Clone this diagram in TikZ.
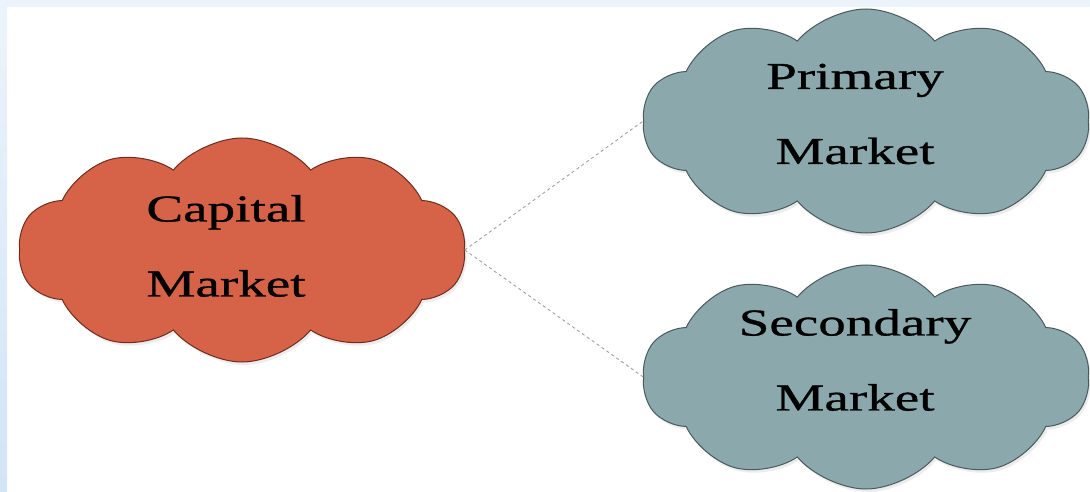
\documentclass[tikz,border=0pt]{standalone}
\usepackage{fontspec}
\setmainfont{Liberation Serif}[FakeStretch=1.45,FakeBold=0.8]
\usetikzlibrary{shapes.symbols,shadows}
\definecolor{capfill}{RGB}{214,99,72}
\definecolor{capline}{RGB}{110,45,30}
\definecolor{mktfill}{RGB}{139,168,172}
\definecolor{mktline}{RGB}{75,90,92}
\definecolor{framebg}{RGB}{236,243,251}
\definecolor{framebg2}{RGB}{210,228,247}
\begin{document}
\begin{tikzpicture}[x=1pt,y=-1pt,
  cloudbox/.style={cloud, cloud puffs=10, cloud puff arc=100, aspect=2, inner sep=0pt,
    minimum width=447pt, minimum height=224pt, line width=1pt,
    drop shadow={opacity=0.15, shadow xshift=2pt, shadow yshift=-3pt}},
  capcloud/.style={cloudbox, fill=capfill, draw=capline},
  mktcloud/.style={cloudbox, fill=mktfill, draw=mktline},
  label/.style={align=center, font=\fontsize{38}{75}\selectfont, text=black},
  link/.style={dashed, draw=gray!75, line width=0.9pt}]
\useasboundingbox (0,0) rectangle (1090,492);
\fill[white] (0,0) rectangle (1090,492);
\fill[framebg] (0,0) rectangle (1090,7);
\shade[top color=framebg, bottom color=framebg2] (0,0) rectangle (7,492);
\node[capcloud] (cap) at (242,250) {};
\node[mktcloud] (pri) at (866,121) {};
\node[mktcloud] (sec) at (866,377) {};
\node[label] (captxt) at (226,246) {Capital\\Market};
\node[label] (pritxt) at (855,114) {Primary\\Market};
\node[label] (sectxt) at (855,360) {Secondary\\Market};
\draw[link] (cap.east) -- (pri.west);
\draw[link] (cap.east) -- (sec.west);
\end{tikzpicture}
\end{document}
